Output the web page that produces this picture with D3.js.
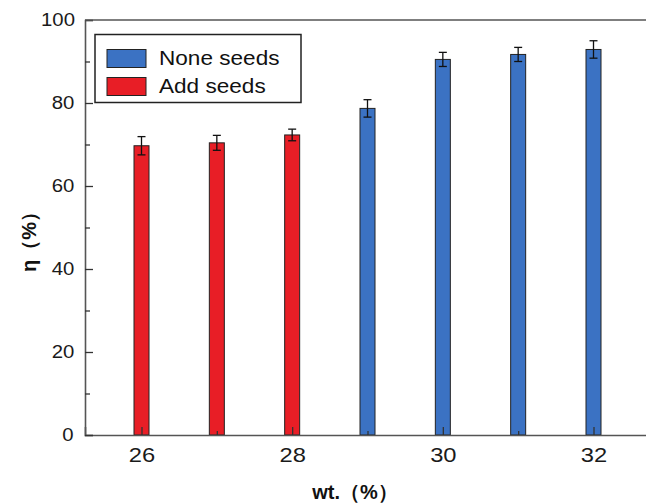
<!DOCTYPE html>
<html>
<head>
<meta charset="utf-8">
<script src="https://cdn.jsdelivr.net/npm/d3@7/dist/d3.min.js"></script>
<style>
  body { margin: 0; background: #fff; }
  svg { display: block; font-family: Arial, "Liberation Sans", sans-serif; }
  .stretch { transform-box: fill-box; transform-origin: center; transform: scaleX(1.13); }
  .stretch-left { transform-box: fill-box; transform-origin: left; transform: scaleX(1.13); }
</style>
</head>
<body>
<div id="chart"></div>
<script>
// wt.% concentration for each bar
const addSeedsX = [26, 27, 28];
const addSeedsY = [69.7, 70.4, 72.3];
const addSeedsErr = [2.2, 1.8, 1.4];

const noneSeedsX = [29, 30, 31, 32];
const noneSeedsY = [78.7, 90.5, 91.7, 92.9];
const noneSeedsErr = [2.1, 1.7, 1.7, 2.1];

const xTicks = [26, 28, 30, 32];
const xMinor = [27, 29, 31];
const yTicks = [0, 20, 40, 60, 80, 100];
const yMinor = [10, 30, 50, 70, 90];

const legendLabels = ['None seeds', 'Add seeds'];

const dims = {
  width: 646,
  height: 504,
  margin: { top: 20, bottom: 69, left: 85, right: -4 }
};
dims.ctrWidth = dims.width - dims.margin.left - dims.margin.right;
dims.ctrHeight = dims.height - dims.margin.top - dims.margin.bottom;

const colors = { none: '#3b72c3', add: '#e81e26' };

const svg = d3.select('#chart')
  .append('svg')
  .attr('width', dims.width)
  .attr('height', dims.height);

const ctr = svg.append('g')
  .attr('transform', `translate(${dims.margin.left}, ${dims.margin.top})`);

const xScale = d3.scaleLinear()
  .domain([25.25, 32.75])
  .range([0, dims.ctrWidth]);

const yScale = d3.scaleLinear()
  .domain([0, 100])
  .range([dims.ctrHeight, 0]);

const barW = 15;

const addData = addSeedsX.map((x, i) => ({ x, y: addSeedsY[i], e: addSeedsErr[i], c: colors.add }));
const noneData = noneSeedsX.map((x, i) => ({ x, y: noneSeedsY[i], e: noneSeedsErr[i], c: colors.none }));
const allData = addData.concat(noneData);

// bars
ctr.selectAll('rect.bar')
  .data(allData)
  .join('rect')
  .classed('bar', true)
  .attr('x', d => xScale(d.x) - barW / 2)
  .attr('y', d => yScale(d.y))
  .attr('width', barW)
  .attr('height', d => yScale(0) - yScale(d.y))
  .attr('fill', d => d.c)
  .attr('stroke', '#222')
  .attr('stroke-width', 1);

// error bars
const err = ctr.append('g')
  .attr('stroke', '#111')
  .attr('stroke-width', 1.3);

err.selectAll('line.v')
  .data(allData)
  .join('line')
  .attr('x1', d => xScale(d.x))
  .attr('x2', d => xScale(d.x))
  .attr('y1', d => yScale(d.y + d.e))
  .attr('y2', d => yScale(d.y - d.e));

err.selectAll('line.top')
  .data(allData)
  .join('line')
  .attr('x1', d => xScale(d.x) - 4)
  .attr('x2', d => xScale(d.x) + 4)
  .attr('y1', d => yScale(d.y + d.e))
  .attr('y2', d => yScale(d.y + d.e));

err.selectAll('line.bot')
  .data(allData)
  .join('line')
  .attr('x1', d => xScale(d.x) - 4)
  .attr('x2', d => xScale(d.x) + 4)
  .attr('y1', d => yScale(d.y - d.e))
  .attr('y2', d => yScale(d.y - d.e));

// axes: ticks point inward
const axisColor = '#555';

const xAxis = d3.axisBottom(xScale)
  .tickValues(xTicks)
  .tickSize(-8)
  .tickPadding(12)
  .tickFormat(d3.format('d'));

const xAxisGroup = ctr.append('g')
  .attr('transform', `translate(0, ${dims.ctrHeight})`)
  .call(xAxis);

const xMinorGroup = ctr.append('g')
  .attr('transform', `translate(0, ${dims.ctrHeight})`)
  .call(d3.axisBottom(xScale).tickValues(xMinor).tickSize(-4).tickFormat(''));
xMinorGroup.select('.domain').remove();

const yAxis = d3.axisLeft(yScale)
  .tickValues(yTicks)
  .tickSize(-8)
  .tickPadding(12)
  .tickFormat(d3.format('d'));

const yAxisGroup = ctr.append('g').call(yAxis);

const yMinorGroup = ctr.append('g')
  .call(d3.axisLeft(yScale).tickValues(yMinor).tickSize(-5).tickFormat(''));
yMinorGroup.select('.domain').remove();

[xAxisGroup, xMinorGroup, yAxisGroup, yMinorGroup].forEach(g => {
  g.selectAll('.domain').attr('stroke', axisColor).attr('stroke-width', 1.6);
  g.selectAll('.tick line').attr('stroke', '#333').attr('stroke-width', 1.3);
});

xAxisGroup.selectAll('.tick text')
  .attr('font-size', 21)
  .attr('fill', '#1a1a1a')
  .classed('stretch', true);

yAxisGroup.selectAll('.tick text')
  .attr('font-size', 18)
  .attr('fill', '#1a1a1a')
  .classed('stretch', true);

// top frame line
ctr.append('line')
  .attr('x1', 0)
  .attr('x2', dims.ctrWidth)
  .attr('y1', 0)
  .attr('y2', 0)
  .attr('stroke', axisColor)
  .attr('stroke-width', 1.6);

// axis titles
svg.append('text')
  .attr('x', 355)
  .attr('y', 499)
  .attr('text-anchor', 'middle')
  .attr('font-size', 20)
  .attr('font-weight', 'bold')
  .attr('fill', '#111')
  .text('wt.（%）');

svg.append('text')
  .attr('transform', 'translate(36, 237) rotate(-90)')
  .attr('text-anchor', 'middle')
  .attr('font-size', 20)
  .attr('font-weight', 'bold')
  .attr('fill', '#111')
  .text('η（%）');

// legend
const legend = svg.append('g');

legend.append('rect')
  .attr('x', 95)
  .attr('y', 34.5)
  .attr('width', 206)
  .attr('height', 68)
  .attr('fill', '#fff')
  .attr('stroke', '#222')
  .attr('stroke-width', 1.5);

const legendItems = legend.selectAll('g.item')
  .data(legendLabels)
  .join('g')
  .classed('item', true)
  .attr('transform', (d, i) => `translate(107, ${49.5 + i * 28})`);

legendItems.append('rect')
  .attr('width', 39)
  .attr('height', 18)
  .attr('fill', (d, i) => i === 0 ? colors.none : colors.add)
  .attr('stroke', '#222')
  .attr('stroke-width', 1);

legendItems.append('text')
  .attr('x', 52)
  .attr('y', 15)
  .attr('font-size', 20)
  .attr('fill', '#111')
  .classed('stretch-left', true)
  .text(d => d);
</script>
</body>
</html>
